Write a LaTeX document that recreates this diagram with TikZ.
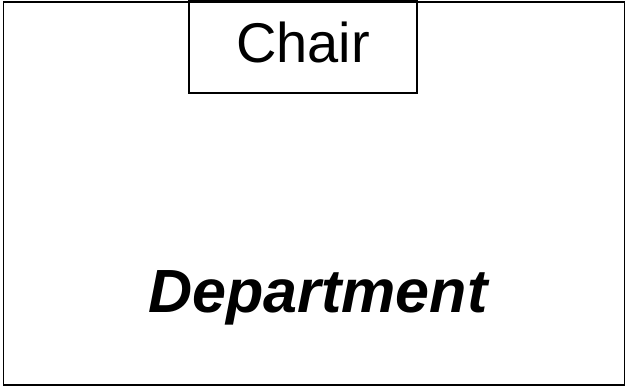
\documentclass[tikz,border=0pt]{standalone}
\usepackage{fontspec}
\setmainfont{Liberation Sans}
\begin{document}
\begin{tikzpicture}[x=1pt,y=-1pt,
  box/.style={draw=black, line width=1.8pt, fill=none, inner sep=0pt},
  lbl/.style={inner sep=0pt, anchor=base}]
\useasboundingbox (0,0) rectangle (628,389);
\node[box, minimum width=621pt, minimum height=383pt] (dept) at (314,193.5) {};
\node[box, minimum width=228pt, minimum height=92pt] (chair) at (303,47) {};
\node[lbl] (chairtext) at (303,62) {\fontsize{56}{60}\selectfont Chair};
\node[lbl] (depttext) at (318,312) {\fontsize{61}{66}\selectfont\bfseries\itshape Department};
\end{tikzpicture}
\end{document}
